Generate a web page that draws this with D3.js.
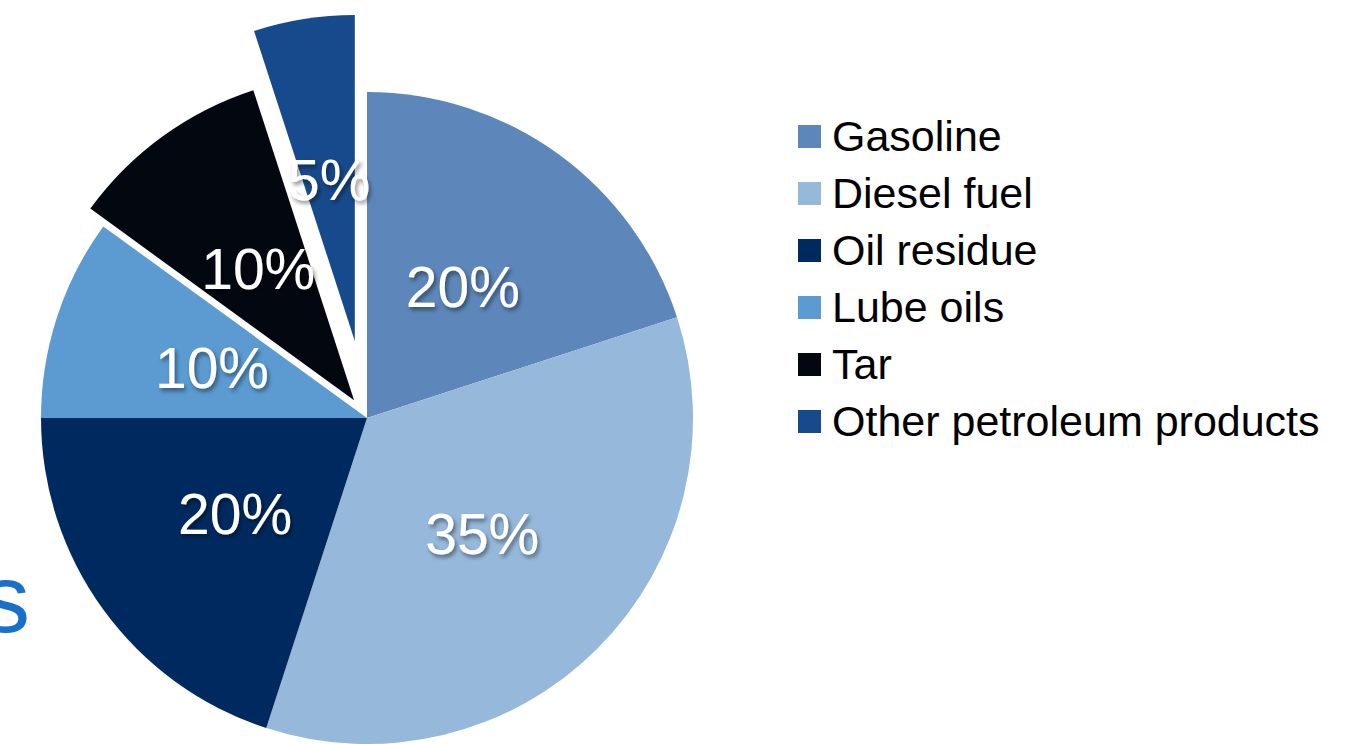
<!DOCTYPE html>
<html>
<head>
<meta charset="utf-8">
<script src="https://cdn.jsdelivr.net/npm/d3@7"></script>
<style>
  html, body { margin: 0; padding: 0; background: #fff; }
  svg { display: block; }
</style>
</head>
<body>
<svg id="chart" width="1364" height="744"></svg>
<script>
// ---- Data ----
const categories = ["Gasoline", "Diesel fuel", "Oil residue", "Lube oils", "Tar", "Other petroleum products"];
const shares = [20, 35, 20, 10, 10, 5];
const labels = ["20%", "35%", "20%", "10%", "10%", "5%"];
const titleFragment = "s";

// ---- Styling ----
const colors = ["#5d87ba", "#96b9db", "#002a5f", "#5b9bd1", "#03070f", "#174a8c"];
const explodeBy = { "Tar": 22, "Other petroleum products": 78 };

const svg = d3.select("#chart");
const cx = 367, cy = 418, R = 326;
const font = "'Liberation Sans', Arial, Helvetica, sans-serif";

const defs = svg.append("defs");
const f = defs.append("filter").attr("id", "shadow")
  .attr("x", "-20%").attr("y", "-20%").attr("width", "140%").attr("height", "160%");
f.append("feDropShadow").attr("dx", 2).attr("dy", 3).attr("stdDeviation", 2)
  .attr("flood-color", "#000").attr("flood-opacity", 0.45);

// title fragment at left edge (cut off, as in the reference)
svg.append("text")
  .attr("x", 30).attr("y", 632)
  .attr("text-anchor", "end")
  .attr("font-family", font)
  .attr("font-size", 96)
  .attr("fill", "#1a6fc8")
  .text(titleFragment);

const color = d3.scaleOrdinal().domain(categories).range(colors);

const pie = d3.pie().sort(null).value(d => d.value);
const data = pie(categories.map((c, i) => ({ name: c, value: shares[i], label: labels[i] })));

const arc = d3.arc().innerRadius(0).outerRadius(R);
const labelArc = d3.arc().innerRadius(R * 0.5).outerRadius(R * 0.5);

const g = svg.append("g").attr("transform", `translate(${cx},${cy})`);

function offset(d) {
  const e = explodeBy[d.data.name] || 0;
  const a = (d.startAngle + d.endAngle) / 2;
  return [Math.sin(a) * e, -Math.cos(a) * e];
}

const slices = g.selectAll("g.slice").data(data).enter().append("g")
  .attr("class", "slice")
  .attr("transform", d => { const o = offset(d); return `translate(${o[0]},${o[1]})`; });

slices.append("path")
  .attr("d", arc)
  .attr("fill", d => color(d.data.name));

slices.append("text")
  .attr("transform", d => `translate(${labelArc.centroid(d)})`)
  .attr("text-anchor", "middle")
  .attr("dy", "0.36em")
  .attr("font-family", font)
  .attr("font-size", 57)
  .attr("fill", "#fff")
  .attr("filter", "url(#shadow)")
  .text(d => d.data.label);

// ---- Legend ----
const legend = svg.append("g").attr("transform", "translate(798,125)");
const rowH = 57;
const items = legend.selectAll("g").data(categories).enter().append("g")
  .attr("transform", (d, i) => `translate(0,${i * rowH})`);
items.append("rect")
  .attr("width", 23).attr("height", 23)
  .attr("fill", d => color(d));
items.append("text")
  .attr("x", 34).attr("y", 26)
  .attr("font-family", font)
  .attr("font-size", 43)
  .attr("fill", "#000")
  .text(d => d);
</script>
</body>
</html>
